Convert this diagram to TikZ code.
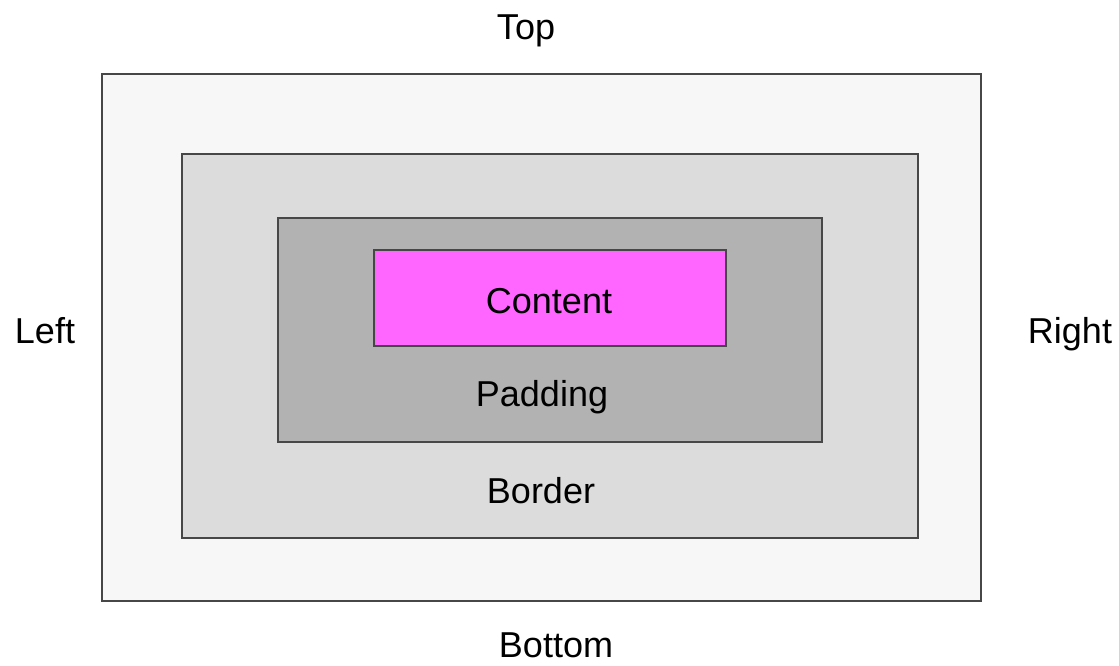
\documentclass[tikz,border=0pt]{standalone}
\usepackage{fontspec}
\setmainfont{Liberation Sans}
\definecolor{outerfill}{HTML}{F7F7F7}
\definecolor{borderfill}{HTML}{DCDCDC}
\definecolor{paddingfill}{HTML}{B2B2B2}
\definecolor{contentfill}{HTML}{FF66FF}
\definecolor{edge}{HTML}{474747}
\begin{document}
\begin{tikzpicture}[x=0.75pt,y=-0.75pt]
\tikzstyle{box}=[draw=edge, line width=1pt]
\tikzstyle{lbl}=[anchor=base, inner sep=0pt, font=\fontsize{27}{32}\selectfont]
\useasboundingbox (0,0) rectangle (1119,665);
%\draw[help lines] (0,0) grid[step=50] (1119,665);

\draw [box, fill=outerfill] (102,74) rectangle (981,601);
\draw [box, fill=borderfill] (182,154) rectangle (918,538);
\draw [box, fill=paddingfill] (278,218) rectangle (822,442);
\draw [box, fill=contentfill] (374,250) rectangle (726,346);

\node [lbl] (content) at (549,313) {Content};
\node [lbl] (padding) at (542,406) {Padding};
\node [lbl] (border) at (541,503) {Border};

\node [lbl] (top) at (526,39) {Top};
\node [lbl] (bottom) at (556,657) {Bottom};
\node [lbl] (left) at (45,343) {Left};
\node [lbl] (right) at (1070,343) {Right};

\end{tikzpicture}
\end{document}
